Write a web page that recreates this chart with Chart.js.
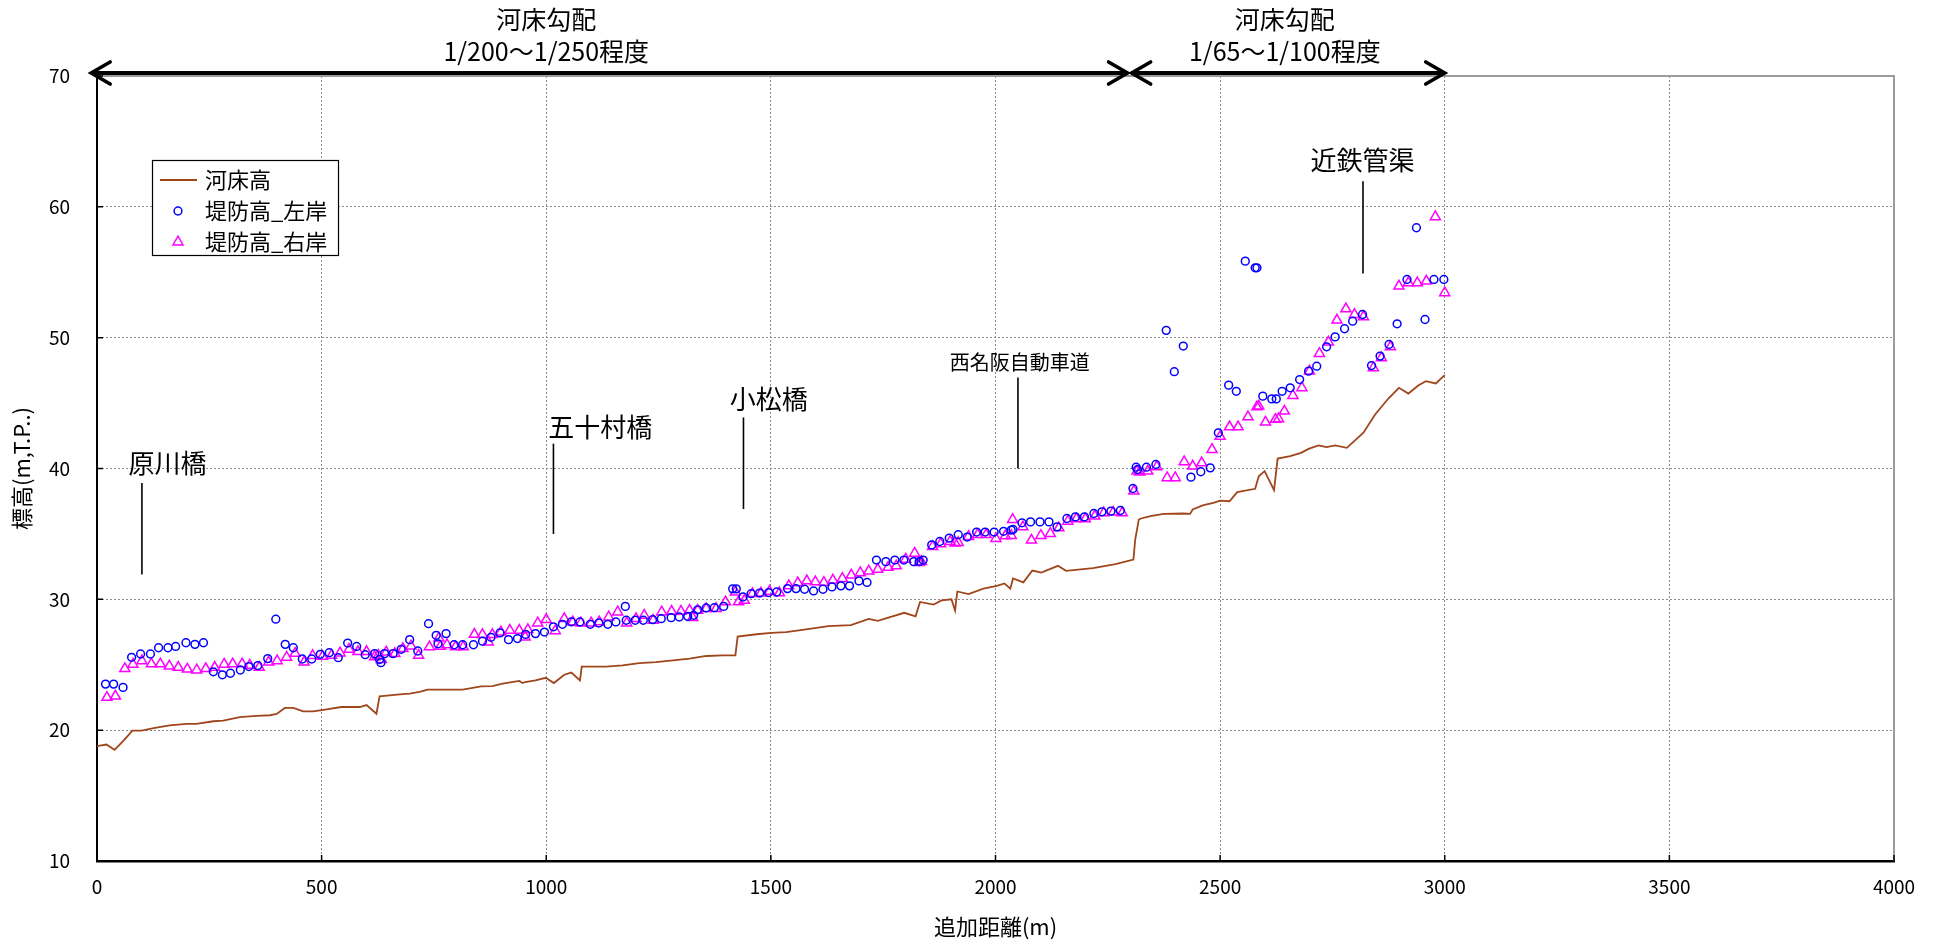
<!DOCTYPE html>
<html lang="ja">
<head>
<meta charset="utf-8">
<title>河床高・堤防高 縦断図</title>
<script src="https://cdn.jsdelivr.net/npm/chart.js@4.4.1/dist/chart.umd.min.js"></script>
<style>
  html, body { margin: 0; padding: 0; background: #fff; }
  canvas { display: block; }
</style>
</head>
<body>
<canvas id="profile" width="1935" height="946"></canvas>
<script>
// ---- 河床高 (追加距離 m / 標高 m) ----
const bedDist = [0,21,39,58,79,99,132,162,199,221,259,281,318,355,385,400,418,437,459,481,504,544,585,600,622,629,651,674,696,718,736,770,814,855,880,903,940,947,953,976,999,1017,1040,1056,1075,1079,1133,1170,1207,1244,1282,1319,1356,1393,1421,1426,1468,1501,1534,1578,1628,1678,1718,1738,1797,1822,1832,1862,1880,1902,1910,1915,1940,1973,2003,2020,2033,2039,2062,2082,2102,2139,2157,2217,2267,2307,2311,2319,2324,2345,2374,2419,2433,2439,2463,2485,2500,2521,2538,2578,2586,2599,2620,2628,2656,2680,2697,2719,2737,2756,2782,2819,2845,2874,2898,2919,2941,2958,2980,3000];
const bedElev = [18.78,18.9,18.5,19.16,19.97,19.97,20.2,20.37,20.48,20.48,20.68,20.73,20.99,21.1,21.14,21.24,21.7,21.7,21.44,21.44,21.55,21.77,21.77,21.92,21.26,22.58,22.66,22.74,22.79,22.92,23.1,23.1,23.1,23.35,23.37,23.55,23.76,23.6,23.68,23.8,24.0,23.6,24.24,24.4,23.8,24.85,24.85,24.95,25.13,25.2,25.34,25.46,25.67,25.72,25.72,27.15,27.33,27.43,27.5,27.7,27.95,28.03,28.5,28.35,28.97,28.7,29.8,29.6,29.92,30.0,29.15,30.6,30.4,30.82,31.03,31.21,30.82,31.6,31.3,32.2,32.05,32.56,32.18,32.38,32.69,33.04,34.57,36.1,36.18,36.36,36.53,36.56,36.53,36.87,37.2,37.38,37.55,37.5,38.19,38.45,39.41,39.8,38.34,40.76,40.94,41.2,41.5,41.76,41.63,41.76,41.58,42.73,44.13,45.33,46.17,45.73,46.34,46.68,46.5,47.14];

// ---- 堤防高_左岸 ----
const leftDist = [19,37,58,77,97,119,137,158,175,198,218,237,259,279,297,319,338,358,380,398,419,437,457,478,497,517,537,558,578,597,618,629,632,640,659,677,696,714,738,755,759,777,795,814,838,858,877,897,916,936,954,976,996,1016,1036,1056,1075,1098,1117,1137,1155,1176,1178,1198,1216,1237,1256,1278,1296,1315,1328,1337,1356,1374,1395,1415,1423,1438,1456,1475,1495,1513,1537,1556,1575,1595,1616,1636,1656,1675,1696,1714,1735,1756,1776,1796,1818,1830,1839,1858,1876,1897,1917,1937,1958,1977,1997,2018,2035,2039,2059,2078,2099,2119,2137,2159,2178,2198,2219,2237,2257,2278,2306,2313,2316,2336,2357,2380,2398,2418,2435,2457,2478,2496,2519,2536,2556,2578,2582,2595,2615,2625,2638,2656,2677,2697,2715,2737,2756,2777,2795,2817,2837,2856,2876,2894,2916,2937,2956,2976,2998];
const leftElev = [23.52,23.52,23.27,25.57,25.82,25.82,26.3,26.3,26.4,26.68,26.56,26.68,24.46,24.23,24.35,24.6,24.86,24.94,25.47,28.48,26.56,26.3,25.44,25.44,25.8,25.92,25.54,26.66,26.4,25.77,25.85,25.4,25.16,25.85,25.85,26.18,26.92,26.05,28.14,27.25,26.6,27.38,26.53,26.53,26.53,26.8,27.1,27.43,26.92,27.0,27.32,27.38,27.5,27.9,28.09,28.27,28.27,28.09,28.19,28.09,28.27,29.46,28.4,28.4,28.4,28.45,28.52,28.6,28.65,28.7,28.78,29.2,29.34,29.36,29.46,30.8,30.8,30.18,30.43,30.48,30.52,30.56,30.82,30.82,30.77,30.64,30.77,30.95,31.03,31.03,31.41,31.29,33.0,32.88,33.0,33.0,32.88,32.88,33.0,34.16,34.42,34.68,34.94,34.76,35.14,35.14,35.14,35.2,35.29,35.34,35.85,35.92,35.92,35.92,35.54,36.18,36.3,36.3,36.56,36.69,36.74,36.79,38.47,40.1,39.92,40.1,40.31,50.56,47.4,49.36,39.34,39.75,40.05,42.73,46.37,45.9,55.85,55.34,55.34,45.53,45.32,45.32,45.9,46.17,46.8,47.44,47.82,49.3,50.06,50.68,51.26,51.77,47.87,48.59,49.48,51.06,54.45,58.4,51.39,54.45,54.45];

// ---- 堤防高_右岸 ----
const rightDist = [22,41,62,80,100,121,141,161,181,201,222,242,262,283,302,323,340,361,382,401,422,441,461,480,502,522,541,561,581,600,618,626,633,644,663,681,699,716,740,761,764,779,798,815,840,858,871,880,899,919,940,953,959,981,1000,1020,1040,1059,1077,1100,1118,1139,1159,1179,1200,1218,1238,1257,1279,1300,1319,1326,1337,1356,1378,1399,1421,1428,1441,1459,1478,1497,1519,1540,1560,1580,1599,1618,1638,1659,1679,1699,1718,1738,1761,1779,1800,1820,1830,1835,1860,1878,1899,1910,1917,1940,1960,1979,2001,2022,2035,2038,2061,2080,2101,2122,2141,2161,2180,2200,2221,2241,2262,2282,2308,2315,2321,2339,2359,2382,2400,2420,2439,2459,2482,2500,2521,2540,2562,2582,2586,2601,2623,2630,2643,2662,2682,2699,2721,2741,2760,2780,2799,2819,2841,2859,2879,2898,2919,2939,2959,2979,3000];
const rightElev = [22.5,22.6,24.7,25.04,25.3,25.06,25.06,24.9,24.8,24.66,24.6,24.7,24.8,25.04,25.06,25.06,24.96,24.8,25.2,25.3,25.57,25.87,25.2,25.7,25.64,25.72,25.9,26.18,26.0,26.0,25.6,25.72,25.4,25.97,25.85,26.23,26.43,25.72,26.36,27.04,26.4,26.53,26.36,26.36,27.32,27.3,26.74,27.3,27.5,27.63,27.63,27.12,27.68,28.19,28.45,27.6,28.52,28.27,28.19,28.19,28.27,28.65,29.03,28.19,28.52,28.78,28.4,29.03,29.08,29.08,29.16,28.6,29.16,29.29,29.29,29.8,30.56,29.8,29.92,30.43,30.48,30.61,30.49,31.03,31.26,31.41,31.34,31.29,31.47,31.59,31.85,32.03,32.16,32.29,32.44,32.55,33.06,33.52,32.8,32.88,34.04,34.24,34.42,34.29,34.34,34.8,34.94,34.94,34.65,34.85,34.88,36.1,35.54,34.52,34.88,35.03,35.46,35.97,36.15,36.15,36.36,36.61,36.66,36.61,38.27,39.8,39.72,39.8,40.13,39.29,39.29,40.51,40.18,40.43,41.45,42.45,43.18,43.18,43.95,44.71,44.76,43.54,43.75,43.8,44.38,45.58,46.17,47.44,48.79,49.66,51.34,52.2,51.77,51.6,47.7,48.46,49.3,53.94,54.19,54.19,54.32,59.24,53.43];

// ---- 軸目盛 ----
const xTicks = [0,500,1000,1500,2000,2500,3000,3500,4000];
const yTicks = [10,20,30,40,50,60,70];

const seriesNames = ['河床高', '堤防高_左岸', '堤防高_右岸'];

// 構造物（追加距離）
const landmarkNames    = ['原川橋', '五十村橋', '小松橋', '西名阪自動車道', '近鉄管渠'];
const landmarkStations = [100, 1016, 1439, 2050, 2818];

// 河床勾配の区間
const slopeFrom   = [-13, 2303];
const slopeTo     = [2294, 3000];
const slopeLabels = [['河床勾配', '1/200～1/250程度'], ['河床勾配', '1/65～1/100程度']];

// ---- 描画設定 ----
const FONT = "'Noto Sans CJK JP', 'Noto Sans', sans-serif";
const COLORS = { bed: '#a0461c', left: '#0000ff', right: '#ff00ff' };

// 注記の配置（値は軸の単位）
const landmarkLayout = [
  { lineLow: 31.9, lineHigh: 38.9, labelX: 157,  labelY: 40.4, size: 26 },
  { lineLow: 35.0, lineHigh: 41.9, labelX: 1120, labelY: 43.2, size: 26 },
  { lineLow: 36.9, lineHigh: 43.9, labelX: 1495, labelY: 45.3, size: 26 },
  { lineLow: 40.0, lineHigh: 46.95, labelX: 2054, labelY: 48.1, size: 20 },
  { lineLow: 54.9, lineHigh: 61.96, labelX: 2817, labelY: 63.6, size: 26 }
];
const slopeLabelX = [1000, 2644];

const toPoints = (xs, ys) => xs.map((v, i) => ({ x: v, y: ys[i] }));

const decor = {
  id: 'profileDecor',
  afterDraw(chart) {
    const { ctx, chartArea: a, scales: { x, y } } = chart;
    ctx.save();

    // 上辺・右辺の枠
    ctx.strokeStyle = '#9b9b9b';
    ctx.lineWidth = 2;
    ctx.beginPath();
    ctx.moveTo(a.left, a.top);
    ctx.lineTo(a.right, a.top);
    ctx.lineTo(a.right, a.bottom);
    ctx.stroke();

    // 内向きの目盛線
    ctx.strokeStyle = '#000';
    ctx.lineWidth = 1.5;
    ctx.beginPath();
    xTicks.forEach(v => {
      const px = x.getPixelForValue(v);
      ctx.moveTo(px, a.bottom);
      ctx.lineTo(px, a.bottom - 6);
    });
    yTicks.forEach(v => {
      const py = y.getPixelForValue(v);
      ctx.moveTo(a.left, py);
      ctx.lineTo(a.left + 6, py);
    });
    ctx.stroke();

    // 河床勾配の区間矢印
    const ay = a.top - 3;
    ctx.strokeStyle = '#000';
    ctx.fillStyle = '#000';
    ctx.lineCap = 'round';
    ctx.lineJoin = 'miter';
    slopeFrom.forEach((from, i) => {
      const x1 = x.getPixelForValue(from);
      const x2 = x.getPixelForValue(slopeTo[i]);
      ctx.lineWidth = 4;
      ctx.beginPath();
      ctx.moveTo(x1 + 2, ay);
      ctx.lineTo(x2 - 2, ay);
      ctx.stroke();
      ctx.lineWidth = 3.6;
      ctx.beginPath();
      ctx.moveTo(x1 + 19, ay - 11);
      ctx.lineTo(x1, ay);
      ctx.lineTo(x1 + 19, ay + 11);
      ctx.moveTo(x2 - 19, ay - 11);
      ctx.lineTo(x2, ay);
      ctx.lineTo(x2 - 19, ay + 11);
      ctx.stroke();

      const cx = x.getPixelForValue(slopeLabelX[i]);
      ctx.font = `25px ${FONT}`;
      ctx.textAlign = 'center';
      ctx.textBaseline = 'middle';
      ctx.fillText(slopeLabels[i][0], cx, a.top - 57);
      ctx.fillText(slopeLabels[i][1], cx, a.top - 25);
    });

    // 構造物の引出線と名称
    ctx.lineCap = 'butt';
    landmarkNames.forEach((name, i) => {
      const L = landmarkLayout[i];
      const px = x.getPixelForValue(landmarkStations[i]);
      ctx.lineWidth = 1.6;
      ctx.beginPath();
      ctx.moveTo(px, y.getPixelForValue(L.lineLow));
      ctx.lineTo(px, y.getPixelForValue(L.lineHigh));
      ctx.stroke();
      ctx.font = `${L.size}px ${FONT}`;
      ctx.textAlign = 'center';
      ctx.textBaseline = 'middle';
      ctx.fillText(name, x.getPixelForValue(L.labelX), y.getPixelForValue(L.labelY));
    });

    // 凡例
    const bx = a.left + 55, by = a.top + 84, bw = 186, bh = 95;
    ctx.fillStyle = '#fff';
    ctx.fillRect(bx, by, bw, bh);
    ctx.strokeStyle = '#000';
    ctx.lineWidth = 1.2;
    ctx.strokeRect(bx + 0.5, by + 0.5, bw, bh);
    const rows = [by + 20, by + 51, by + 82];
    const ds = chart.data.datasets;
    ctx.strokeStyle = COLORS.bed;
    ctx.lineWidth = 1.8;
    ctx.beginPath();
    ctx.moveTo(bx + 8, rows[0]);
    ctx.lineTo(bx + 45, rows[0]);
    ctx.stroke();
    [1, 2].forEach(k => {
      ctx.strokeStyle = ds[k].borderColor;
      ctx.fillStyle = 'rgba(0,0,0,0)';
      ctx.lineWidth = ds[k].borderWidth;
      Chart.helpers.drawPoint(ctx, {
        pointStyle: ds[k].pointStyle, radius: ds[k].pointRadius,
        borderWidth: ds[k].borderWidth, rotation: 0
      }, bx + 26, rows[k]);
    });
    ctx.fillStyle = '#000';
    ctx.font = `22px ${FONT}`;
    ctx.textAlign = 'left';
    ctx.textBaseline = 'middle';
    seriesNames.forEach((n, k) => ctx.fillText(n, bx + 53, rows[k]));

    ctx.restore();
  }
};

new Chart(document.getElementById('profile'), {
  type: 'scatter',
  data: {
    datasets: [
      {
        label: seriesNames[0],
        data: toPoints(bedDist, bedElev),
        showLine: true,
        borderColor: COLORS.bed,
        borderWidth: 1.8,
        pointRadius: 0,
        tension: 0,
        fill: false
      },
      {
        label: seriesNames[1],
        data: toPoints(leftDist, leftElev),
        showLine: false,
        pointStyle: 'circle',
        pointRadius: 3.9,
        borderWidth: 1.5,
        borderColor: COLORS.left,
        backgroundColor: 'rgba(0,0,0,0)'
      },
      {
        label: seriesNames[2],
        data: toPoints(rightDist, rightElev),
        showLine: false,
        pointStyle: 'triangle',
        pointRadius: 5.8,
        borderWidth: 1.5,
        borderColor: COLORS.right,
        backgroundColor: 'rgba(0,0,0,0)'
      }
    ]
  },
  options: {
    responsive: false,
    animation: false,
    devicePixelRatio: 1,
    layout: { padding: { left: 0, top: 76, right: 41, bottom: 0 } },
    plugins: {
      legend: { display: false },
      tooltip: { enabled: false }
    },
    scales: {
      x: {
        type: 'linear',
        min: 0, max: 4000,
        afterFit(s) { s.height = 85; },
        afterBuildTicks(s) { s.ticks = xTicks.map(v => ({ value: v })); },
        ticks: {
          autoSkip: false, maxRotation: 0, padding: 14,
          color: '#000', font: { family: FONT, size: 19 },
          callback: v => String(v)
        },
        grid: { color: '#8a8a8a', lineWidth: 1, drawTicks: false },
        border: { display: true, color: '#000', width: 2.5, dash: [2, 2] },
        title: {
          display: true, text: '追加距離(m)', color: '#000',
          font: { family: FONT, size: 22 }, padding: { top: 0, bottom: 6 }
        }
      },
      y: {
        type: 'linear',
        min: 10, max: 70,
        afterFit(s) { s.width = 97; },
        afterBuildTicks(s) { s.ticks = yTicks.map(v => ({ value: v })); },
        ticks: {
          autoSkip: false, padding: 27,
          color: '#000', font: { family: FONT, size: 19 },
          callback: v => String(v)
        },
        grid: { color: '#8a8a8a', lineWidth: 1, drawTicks: false },
        border: { display: true, color: '#000', width: 2, dash: [2, 2] },
        title: {
          display: true, text: '標高(m,T.P..)', color: '#000',
          font: { family: FONT, size: 22 }, padding: { top: 8, bottom: 0 }
        }
      }
    }
  },
  plugins: [decor]
});
</script>
</body>
</html>
